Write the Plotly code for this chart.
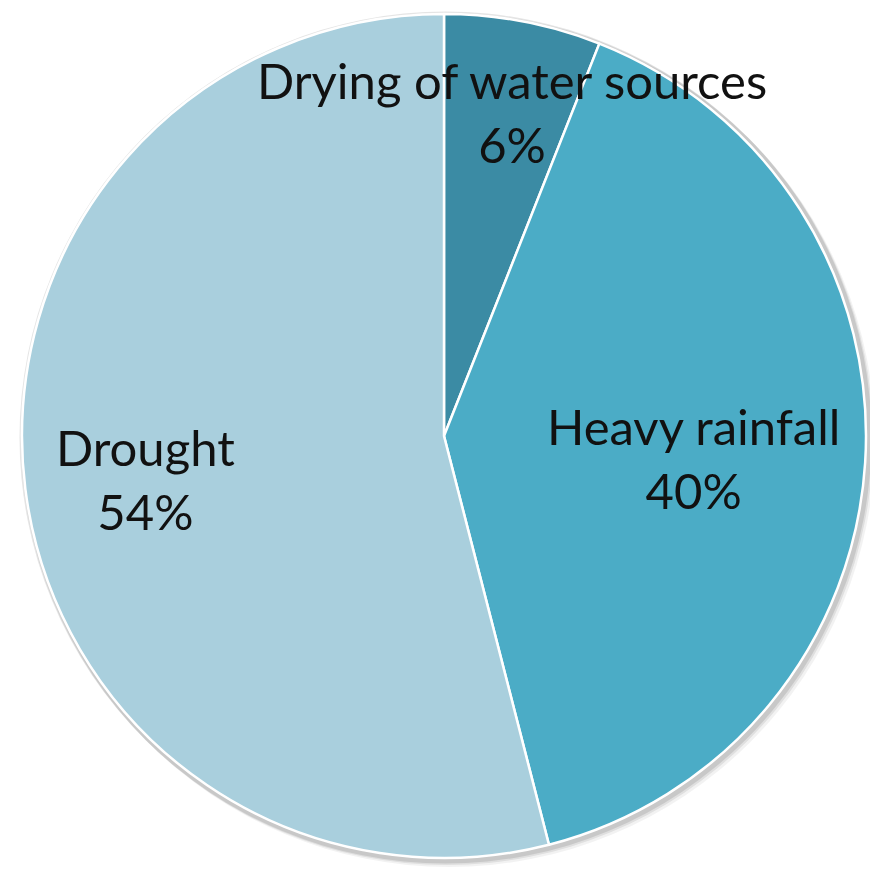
import plotly.graph_objects as go

# Shares of reported water-related hazards
labels = ["Drying of water sources", "Heavy rainfall", "Drought"]
values = [6, 40, 54]
colors = ["#3b8ba4", "#4bacc6", "#a9cfdd"]

W, H = 870, 871

# pie placement in pixels
px_left, px_right, px_top, px_bottom = 22, 866, 10, 862

fig = go.Figure()
fig.add_trace(go.Pie(
    labels=labels,
    values=values,
    sort=False,
    direction="clockwise",
    rotation=0,
    marker=dict(colors=colors, line=dict(color="white", width=2.5)),
    textinfo="none",
    hoverinfo="label+percent",
    showlegend=False,
    domain=dict(x=[px_left / W, px_right / W],
                y=[1 - px_bottom / H, 1 - px_top / H]),
))

# label centres (paper pixels) for each slice
label_pos = [(512, 112), (693, 458), (145, 479)]
for lab, val, (x, y) in zip(labels, values, label_pos):
    fig.add_annotation(
        x=x / W, y=1 - y / H, xref="paper", yref="paper",
        xanchor="center", yanchor="middle",
        text=f"{lab}<br>{val}%", showarrow=False,
        font=dict(family="Lato", size=49, color="#111111"),
        align="center",
    )

# soft drop shadow behind the pie
cx, cy, r = (px_left + px_right) / 2, (px_top + px_bottom) / 2, (px_bottom - px_top) / 2
for off, col in [(5, "rgba(0,0,0,0.05)"), (3, "rgba(0,0,0,0.08)"), (1.5, "rgba(0,0,0,0.10)")]:
    fig.add_shape(
        type="circle", xref="paper", yref="paper", layer="below",
        x0=(cx - r + off) / W, x1=(cx + r + off) / W,
        y0=1 - (cy + r + off) / H, y1=1 - (cy - r + off) / H,
        line=dict(width=0), fillcolor=col,
    )

fig.update_layout(
    width=W, height=H,
    margin=dict(l=0, r=0, t=0, b=0),
    paper_bgcolor="white",
    plot_bgcolor="white",
)

fig.write_html("out.html")
